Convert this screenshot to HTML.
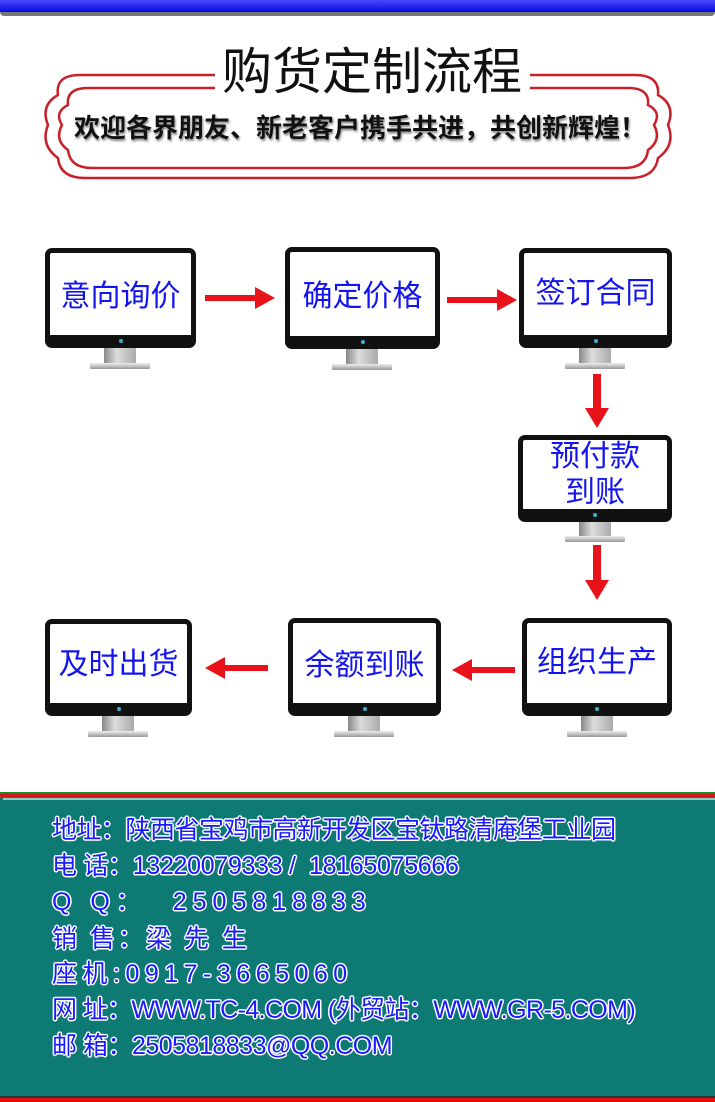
<!DOCTYPE html>
<html><head><meta charset="utf-8"><style>
body{margin:0;width:715px;height:1102px;position:relative;background:#fff;overflow:hidden;font-family:"Liberation Sans","Noto Sans CJK SC",sans-serif}
.a{position:absolute}
.m{position:absolute;box-sizing:border-box;background:#fff;border:5px solid #111;border-bottom-width:13px;border-radius:7px;color:#1414f0;font-size:30px;display:flex;align-items:center;justify-content:center;text-align:center;line-height:36px;padding-top:6px}
.m:after{content:"";position:absolute;left:50%;bottom:-8px;width:4px;height:4px;margin-left:-2px;background:#3bb0d0;border-radius:50%}
.neck{position:absolute;background:linear-gradient(90deg,#888,#ddd 40%,#aaa);height:15px;width:32px}
.base{position:absolute;background:linear-gradient(#eee,#999);height:6px;width:60px;border-radius:1px}
.info{position:absolute;left:52px;color:#1a1aff;font-size:25px;white-space:nowrap;text-shadow:-1px -1px 0 #fff,1px -1px 0 #fff,-1px 1px 0 #fff,1px 1px 0 #fff,0 1.5px 0 #fff,0 -1.5px 0 #fff,1.5px 0 0 #fff,-1.5px 0 0 #fff}
</style></head><body>
<div class="a" style="left:0;top:0;width:715px;height:12px;background:linear-gradient(#4a4aff,#0a0adc);border-bottom:4px solid #777;border-radius:0 0 4px 4px"></div>

<svg class="a" style="left:0;top:0" width="715" height="200">
<g fill="none" stroke="#c8202a" stroke-width="2.5">
<path d="M215 75 H80 Q55 75 58 95 Q40 105 48 125 Q40 145 58 158 Q60 178 85 178 H630 Q655 178 658 158 Q676 145 668 125 Q676 105 658 95 Q660 75 635 75 H530"/>
<path d="M215 88 H88 Q66 88 68 105 Q54 112 62 125 Q54 140 68 150 Q70 168 92 168 H624 Q646 168 648 150 Q662 140 654 125 Q662 112 648 105 Q650 88 628 88 H530"/>
</g>
</svg>
<div class="a" style="left:212px;top:42px;width:320px;text-align:center;font-size:50px;color:#111;line-height:60px">购货定制流程</div>
<div class="a" style="left:60px;top:111px;width:600px;text-align:center;font-size:26px;font-weight:bold;color:#111;text-shadow:1px 2px 2px #888;line-height:34px">欢迎各界朋友、新老客户携手共进，共创新辉煌！</div>

<div class="m" style="left:45px;top:248px;width:151px;height:100px">意向询价</div>
<div class="neck" style="left:104px;top:348px"></div><div class="base" style="left:90px;top:363px"></div>
<div class="m" style="left:285px;top:247px;width:155px;height:102px">确定价格</div>
<div class="neck" style="left:346px;top:349px"></div><div class="base" style="left:332px;top:364px"></div>
<div class="m" style="left:519px;top:248px;width:153px;height:100px;padding-top:0">签订合同</div>
<div class="neck" style="left:579px;top:348px"></div><div class="base" style="left:565px;top:363px"></div>
<div class="m" style="left:518px;top:435px;width:154px;height:87px;padding-top:0">预付款<br>到账</div>
<div class="neck" style="left:579px;top:522px"></div><div class="base" style="left:565px;top:536px"></div>
<div class="m" style="left:522px;top:618px;width:150px;height:98px;padding-top:0">组织生产</div>
<div class="neck" style="left:581px;top:716px"></div><div class="base" style="left:567px;top:731px"></div>
<div class="m" style="left:288px;top:618px;width:153px;height:98px">余额到账</div>
<div class="neck" style="left:348px;top:716px"></div><div class="base" style="left:334px;top:731px"></div>
<div class="m" style="left:45px;top:619px;width:147px;height:97px;padding-top:2px">及时出货</div>
<div class="neck" style="left:102px;top:716px"></div><div class="base" style="left:88px;top:731px"></div>

<svg class="a" style="left:0;top:0" width="715" height="790" fill="#e8121a">
<path d="M205 295 h50 v-8 l20 11 l-20 11 v-8 h-50z"/>
<path d="M447 297 h50 v-8 l20 11 l-20 11 v-8 h-50z"/>
<path d="M593 374 h8 v34 h8 l-12 20 l-12 -20 h8z"/>
<path d="M593 545 h8 v35 h8 l-12 20 l-12 -20 h8z"/>
<path d="M515 667 h-43 v-8 l-20 11 l20 11 v-8 h43z"/>
<path d="M268 665 h-43 v-8 l-20 11 l20 11 v-8 h43z"/>
</svg>

<div class="a" style="left:0;top:792px;width:715px;height:310px;background:#0e7a74"></div>
<div class="a" style="left:0;top:792px;width:715px;height:2px;background:#1a8a2a"></div>
<div class="a" style="left:0;top:794px;width:715px;height:3px;background:#d01818"></div>
<div class="a" style="left:3px;top:798px;width:712px;height:2px;background:#8ccfc6"></div>
<div class="a" style="left:0;top:1096px;width:715px;height:2px;background:#333"></div>
<div class="a" style="left:0;top:1098px;width:715px;height:4px;background:#e01010"></div>

<div class="info" style="top:810px;letter-spacing:-0.5px">地址：陕西省宝鸡市高新开发区宝钛路清庵堡工业园</div>
<div class="info" style="top:846px;letter-spacing:-0.3px">电 话：13220079333 /&nbsp; 18165075666</div>
<div class="info" style="top:882px;letter-spacing:6px">Q Q：&nbsp; 2505818833</div>
<div class="info" style="top:919px;letter-spacing:3px">销 售：梁 先 生</div>
<div class="info" style="top:954px;letter-spacing:5.5px">座机:0917-3665060</div>
<div class="info" style="top:990px;letter-spacing:-0.6px">网 址：WWW.TC-4.COM (外贸站：WWW.GR-5.COM)</div>
<div class="info" style="top:1026px;letter-spacing:-0.5px">邮 箱：2505818833@QQ.COM</div>
</body></html>
